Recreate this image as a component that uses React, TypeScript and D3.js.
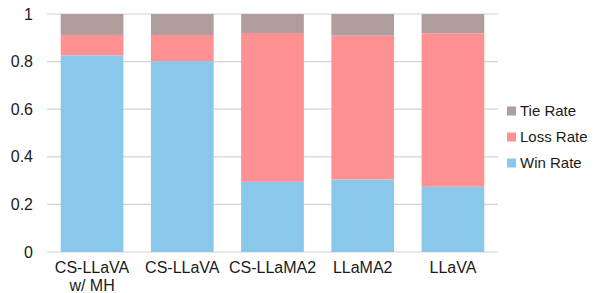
import React, { useRef, useEffect } from 'react'
import * as d3 from 'd3'

const categories = ['CS-LLaVA\nw/ MH', 'CS-LLaVA', 'CS-LLaMA2', 'LLaMA2', 'LLaVA']
const winRate = [0.826, 0.802, 0.295, 0.305, 0.274]
const lossRate = [0.086, 0.11, 0.625, 0.604, 0.645]
const tieRate = [0.088, 0.088, 0.08, 0.091, 0.081]
const yTicks = [0, 0.2, 0.4, 0.6, 0.8, 1]

const seriesNames = ['Win Rate', 'Loss Rate', 'Tie Rate']
const colors = ['#89C8EB', '#FF9193', '#B09E9E']

export default function App() {
  const svgRef = useRef<SVGSVGElement>(null)

  useEffect(() => {
    const svg = d3.select(svgRef.current)
    svg.selectAll('*').remove()

    const width = 594, height = 293
    const margin = { top: 14, right: 96, bottom: 41, left: 47 }
    const w = width - margin.left - margin.right
    const h = height - margin.top - margin.bottom
    const font = '"Liberation Sans", Arial, sans-serif'

    const g = svg.append('g').attr('transform', `translate(${margin.left},${margin.top})`)

    const x = d3.scaleBand().domain(categories).range([0, w]).paddingInner(0.305).paddingOuter(0.152)
    const y = d3.scaleLinear().domain([0, 1]).range([h, 0])

    g.selectAll('.grid').data(yTicks).join('line')
      .attr('x1', 0).attr('x2', w)
      .attr('y1', d => y(d)).attr('y2', d => y(d))
      .attr('stroke', '#D3D3D3').attr('stroke-width', 1.2)

    g.selectAll('.ytick').data(yTicks).join('text')
      .attr('x', -14).attr('y', d => y(d)).attr('dy', '0.35em')
      .attr('text-anchor', 'end').attr('font-family', font).attr('font-size', '16px')
      .attr('fill', '#1a1a1a').text(d => String(d))

    const rows = categories.map((c, i) => ({ cat: c, win: winRate[i], loss: lossRate[i], tie: tieRate[i] }))
    const stacked = d3.stack<any>().keys(['win', 'loss', 'tie'])(rows)

    stacked.forEach((layer, li) => {
      g.append('g').selectAll('rect').data(layer).join('rect')
        .attr('x', d => x(d.data.cat)!)
        .attr('width', x.bandwidth())
        .attr('y', d => y(d[1]))
        .attr('height', d => y(d[0]) - y(d[1]))
        .attr('fill', colors[li])
    })

    categories.forEach(c => {
      const lines = c.split('\n')
      const t = g.append('text')
        .attr('x', x(c)! + x.bandwidth() / 2).attr('y', h + 21)
        .attr('text-anchor', 'middle').attr('font-family', font).attr('font-size', '16px').attr('fill', '#1a1a1a')
      lines.forEach((l, i) => {
        t.append('tspan').attr('x', x(c)! + x.bandwidth() / 2).attr('dy', i === 0 ? 0 : 18).text(l)
      })
    })

    const legend = svg.append('g').attr('transform', `translate(507, 111)`)
    const order = [2, 1, 0]
    order.forEach((si, i) => {
      const row = legend.append('g').attr('transform', `translate(0, ${i * 26})`)
      row.append('rect').attr('x', 0).attr('y', -4.5).attr('width', 9).attr('height', 9).attr('fill', colors[si])
      row.append('text').attr('x', 13).attr('y', 0).attr('dy', '0.35em')
        .attr('font-family', font).attr('font-size', '15px').attr('fill', '#1a1a1a').text(seriesNames[si])
    })
  }, [])

  return <svg ref={svgRef} width={594} height={293} style={{ position: 'absolute', left: 0, top: 0 }} />
}
